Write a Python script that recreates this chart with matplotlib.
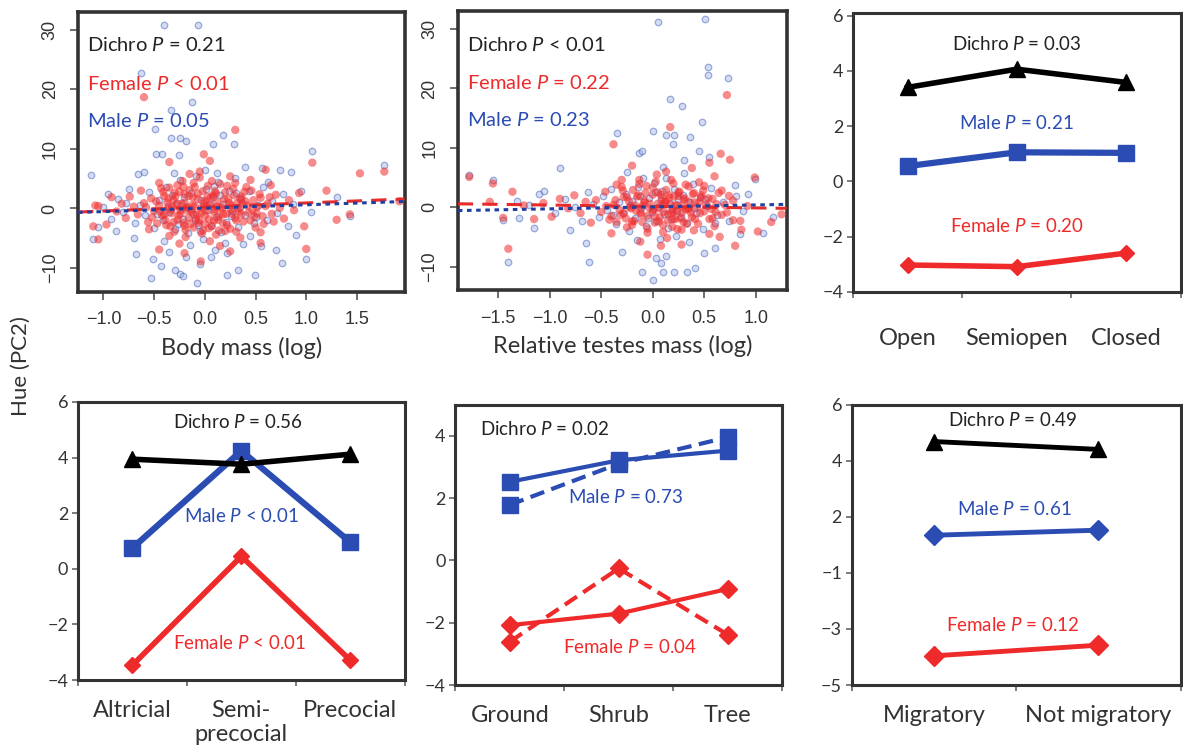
import numpy as np
import matplotlib
matplotlib.use("Agg")
import matplotlib.pyplot as plt

plt.rcParams["font.family"] = ["Lato", "DejaVu Sans"]
plt.rcParams["mathtext.fontset"] = "custom"
plt.rcParams["mathtext.rm"] = "Lato"
plt.rcParams["mathtext.it"] = "Lato:italic"

RED = "#ee2a2a"
BLUE = "#2a4cb3"
EDGE = "#333333"

# ---- scatter data: body mass (log) vs hue ----
body_blue = [(-0.40, 30.9), (-0.07, 30.8), (-0.63, 22.8), (-0.13, 17.9), (-0.33, 16.6), (-0.49, 13.4),
             (0.18, 12.4), (-0.33, 11.9), (-0.24, 11.9), (-0.19, 11.4), (0.29, 10.9), (0.08, 10.8),
             (1.06, 9.7), (-0.48, 9.1), (-0.42, 9.1), (-0.25, 9.0), (1.77, 7.3), (-0.66, 5.8),
             (1.43, -1.3), (1.00, -8.5), (0.76, -9.1), (0.49, -11.1), (0.33, -10.4), (0.22, -11.2),
             (-0.08, -12.6), (-0.53, -11.6), (-0.24, -11.0), (-0.22, -11.4), (-0.29, -10.4), (-0.43, -9.6),
             (-0.51, -8.5), (-0.68, -7.7), (-1.10, -5.2), (-1.12, 5.7), (-1.05, -3.1), (-0.05, -9.4),
             (-0.19, -8.2), (0.06, -8.2), (0.22, -7.4), (0.56, 6.8), (0.74, 6.5), (0.85, 6.2),
             (0.40, 7.0), (0.95, 3.0), (1.30, 2.0), (0.70, -7.0), (0.55, -6.3), (-0.60, 6.2),
             (-0.78, 1.0), (-0.95, 2.5), (-0.88, -3.8), (-0.70, -5.0), (-0.35, -7.3), (0.10, -7.0),
             (0.38, -6.0), (0.90, -4.5), (1.05, -0.6), (0.62, 4.4),
             (-0.45, 1.5), (-0.41, -2.0), (-0.38, 3.6), (-0.35, -0.6), (-0.32, 2.2), (-0.29, -3.5),
             (-0.27, 0.9), (-0.24, 4.8), (-0.22, -1.7), (-0.19, 0.3), (-0.17, -4.2), (-0.14, 2.6),
             (-0.12, -0.9), (-0.09, 5.5), (-0.07, -2.7), (-0.04, 1.4), (-0.02, -5.1), (0.01, 3.3),
             (0.03, -0.2), (0.06, -3.0), (0.08, 1.9), (0.11, -1.4), (0.13, 4.5), (0.16, -4.0),
             (0.18, 0.8), (0.21, -2.2), (0.24, 3.0), (0.27, -0.5), (0.30, 5.1), (0.33, -3.1),
             (0.36, 1.6), (0.40, -1.1), (0.44, 2.9), (0.48, -2.5), (0.52, 0.6), (0.57, 3.6),
             (0.61, -1.9), (0.66, 1.2), (0.71, -0.8), (0.77, 2.4), (0.82, -2.9), (0.87, 0.7),
             (-0.50, -3.3), (-0.55, 2.7), (-0.59, -1.1), (-0.64, 0.5), (-0.69, -2.4), (-0.75, 3.2),
             (-0.81, -0.6), (-0.86, 1.6), (-0.93, -1.8), (-1.00, 0.2), (-0.30, 6.0), (0.00, 6.5),
             (0.20, -5.8), (-0.15, -6.2), (0.45, -4.6), (-0.40, -5.4), (0.12, 5.9), (-0.05, -3.8),
             (-0.36, 0.4), (-0.21, 1.9), (-0.10, -1.9), (0.04, 0.7), (0.15, 2.2), (0.26, -1.3),
             (0.35, 0.2), (-0.47, -0.9), (-0.26, -2.6), (0.09, 3.8), (0.31, 2.6), (0.50, -1.5)]

body_red = [(-0.45, 0.5), (-0.42, -1.2), (-0.40, 2.1), (-0.38, -2.8), (-0.36, 0.0), (-0.35, 3.5),
            (-0.33, -0.8), (-0.31, 1.4), (-0.30, -3.9), (-0.28, 0.7), (-0.27, -1.9), (-0.25, 2.8),
            (-0.24, -0.3), (-0.22, 4.6), (-0.21, -2.4), (-0.20, 1.0), (-0.19, -4.8), (-0.17, 0.2),
            (-0.16, -1.5), (-0.15, 3.1), (-0.13, -0.6), (-0.12, 1.9), (-0.11, -3.2), (-0.10, 0.4),
            (-0.08, -1.0), (-0.07, 2.5), (-0.06, -2.0), (-0.05, 5.2), (-0.03, 0.1), (-0.02, -3.7),
            (0.00, 1.3), (0.01, -0.4), (0.03, 3.8), (0.04, -1.8), (0.05, 0.6), (0.07, -2.9),
            (0.08, 2.2), (0.10, -0.2), (0.11, -4.4), (0.12, 1.1), (0.14, -1.3), (0.15, 4.1),
            (0.17, 0.0), (0.18, -2.5), (0.20, 2.7), (0.21, -0.9), (0.23, 1.6), (0.25, -3.4),
            (0.26, 0.5), (0.28, 3.3), (0.30, -1.6), (0.32, 0.9), (0.34, -0.5), (0.36, 2.0),
            (0.38, -2.2), (0.40, 1.2), (0.43, -0.7), (0.46, 3.0), (0.49, -1.4), (0.52, 0.3),
            (0.55, 1.8), (0.58, -2.6), (0.62, 0.8), (0.66, -0.9), (0.70, 2.3), (0.74, 0.1),
            (0.78, -1.7), (0.83, 1.4), (0.88, -0.3), (0.93, 2.6), (0.98, -3.0),
            (-0.50, -0.4), (-0.53, 1.7), (-0.56, -2.3), (-0.60, 0.9), (-0.63, 3.0), (-0.66, -1.0),
            (-0.70, 0.3), (-0.74, 2.0), (-0.78, -1.6), (-0.82, 0.8), (-0.87, -0.5), (-0.92, 1.9),
            (-0.97, -2.7), (-1.05, 0.4), (-1.10, -3.0),
            (-0.30, 2.6), (-0.20, -2.9), (-0.10, 3.6), (0.00, -2.6), (0.10, 2.9), (0.20, -3.8),
            (0.30, 4.3), (-0.35, -4.6), (-0.15, 5.8), (0.05, -5.5), (0.25, 5.4), (-0.25, -5.9),
            (0.15, -6.3), (-0.05, 6.2), (0.35, -4.9), (0.45, 4.8), (-0.45, 4.3), (0.55, -4.0),
            (-0.55, -3.5), (0.65, 3.9),
            (-0.60, 18.7), (0.30, 13.2), (-0.01, 9.1), (1.06, 7.7), (1.00, -6.8), (1.77, 6.2),
            (1.53, 5.9), (1.43, -1.0), (1.92, 1.2), (-1.08, 0.5), (-1.05, -5.2), (-0.04, -8.9),
            (0.25, -7.2), (-0.20, -7.5), (0.55, -5.8), (-0.45, -6.9), (0.60, 6.5), (-0.35, 7.8),
            (0.05, 8.0), (1.20, 3.0), (1.30, -1.9)]

# dense centre of the red cloud
body_red_core = [(-0.58, 0.2), (-0.52, -1.5), (-0.48, 1.2), (-0.44, -0.5), (-0.41, 2.8), (-0.39, -1.9),
                 (-0.37, 1.0), (-0.34, -3.0), (-0.32, 0.3), (-0.29, 2.0), (-0.26, -1.2), (-0.23, 0.8),
                 (-0.21, 3.6), (-0.18, -0.2), (-0.16, 2.1), (-0.14, -2.6), (-0.12, 0.6), (-0.09, -1.7),
                 (-0.07, 1.6), (-0.04, -0.8), (-0.02, 2.9), (0.00, -1.2), (0.02, 0.4), (0.04, -3.3),
                 (0.06, 1.8), (0.09, -0.6), (0.11, 2.5), (0.13, -1.9), (0.16, 0.2), (0.19, 1.5),
                 (0.22, -2.8), (0.24, 0.9), (0.27, -0.9), (0.29, 2.2), (0.31, -2.0), (0.33, 0.0),
                 (0.36, -1.0), (0.39, 2.8), (0.42, 0.5), (0.45, -2.0), (0.48, 1.4), (0.51, -0.8),
                 (0.54, 2.4), (0.57, -1.3), (0.60, 0.4), (0.64, 1.9), (0.68, -2.2), (-0.47, -2.5),
                 (-0.43, 3.4), (-0.31, -2.3), (-0.27, 3.9), (-0.19, -3.6), (-0.11, 4.3), (-0.03, -4.2),
                 (0.07, 4.6), (0.14, -3.7), (0.22, 3.8), (0.31, -3.9), (0.41, 3.6), (0.50, -3.2),
                 (-0.36, 1.7), (-0.24, -0.9), (-0.13, -0.3), (-0.01, 0.9), (0.12, 0.3), (0.26, -0.2),
                 (0.37, 0.8), (-0.40, -1.0), (-0.20, 2.4), (0.03, 2.0), (0.18, -1.0), (0.35, 1.6),
                 (-0.06, -2.4), (0.09, -2.0), (-0.33, -0.2), (0.47, -0.3)]

# ---- scatter data: relative testes mass (log) vs hue ----
testes_blue = [(0.05, 31.2), (0.51, 31.7), (0.54, 23.7), (0.54, 22.3), (0.73, 21.8), (0.17, 18.3),
               (0.28, 17.0), (0.48, 14.3), (-0.35, 12.5), (0.00, 12.9), (0.13, 12.2), (0.21, 12.2),
               (0.36, 11.9), (0.20, 10.7), (-0.13, 9.2), (-0.10, 9.4), (-1.78, 5.4), (-1.55, 4.5),
               (-0.90, 6.6), (-1.40, -9.3), (-0.62, -9.3), (-0.10, -11.0), (0.00, -12.2), (0.10, -11.0),
               (0.21, -11.0), (0.33, -11.0), (0.41, -10.2), (0.03, -8.6), (0.08, -9.4), (0.13, -8.3),
               (1.07, -4.3), (1.17, -1.7), (0.99, 4.8), (0.92, 2.3), (0.45, 9.5), (0.30, 8.0),
               (0.55, 8.5), (-1.30, -1.8), (-1.45, -2.2), (-1.10, 2.2), (-0.80, -3.8), (-0.65, -6.0),
               (0.60, -6.8), (0.50, -7.8), (-0.30, -7.5), (0.85, -4.5), (-1.15, -3.5), (0.80, 3.8),
               (-0.52, -1.6), (-0.48, 1.9), (-0.44, -0.4), (-0.40, 3.1), (-0.36, -2.9), (-0.33, 0.8),
               (-0.29, -1.0), (-0.26, 2.3), (-0.23, -4.0), (-0.20, 1.0), (-0.17, -1.8), (-0.14, 3.4),
               (-0.11, -0.1), (-0.09, 5.0), (-0.06, -3.1), (-0.04, 1.6), (-0.01, -0.8), (0.01, 4.1),
               (0.03, -2.4), (0.05, 0.1), (0.07, -5.3), (0.09, 2.7), (0.11, -1.1), (0.13, 4.9),
               (0.15, -3.5), (0.17, 0.7), (0.19, -0.3), (0.21, 3.0), (0.23, -4.8), (0.25, 1.3),
               (0.27, -1.6), (0.30, 5.8), (0.33, -2.6), (0.36, 0.9), (0.39, 3.9), (0.42, -0.9),
               (0.46, 1.8), (0.49, -3.6), (0.53, 0.2), (0.57, 3.2), (0.62, -1.3), (0.68, 0.8),
               (0.74, -2.4), (0.81, 1.9), (0.88, -0.6), (-0.58, 0.5), (-0.63, 2.5), (-0.69, -2.3),
               (-0.75, 0.0), (-0.85, 1.3), (-0.95, -0.9), (-1.05, 2.8), (-1.20, 0.4), (-1.32, 1.0),
               (0.10, 6.8), (-0.25, 6.0), (0.35, -5.8), (-0.15, -5.5),
               (-0.22, 0.3), (-0.05, -1.9), (0.08, 1.2), (0.18, -2.0), (0.29, 2.0), (0.40, -0.2),
               (0.51, 1.3), (-0.38, -1.4), (0.02, 2.5), (0.24, -0.7), (0.60, -2.7), (-0.12, 1.9)]

testes_red = [(-0.55, 1.2), (-0.50, -0.8), (-0.46, 2.6), (-0.42, -2.1), (-0.38, 0.4), (-0.35, 3.8),
              (-0.31, -1.3), (-0.28, 1.7), (-0.25, -3.4), (-0.22, 0.0), (-0.19, 2.9), (-0.16, -0.6),
              (-0.13, 4.6), (-0.10, -2.5), (-0.08, 1.1), (-0.05, -4.3), (-0.03, 0.6), (0.00, 3.3),
              (0.02, -1.5), (0.04, 5.5), (0.06, -0.2), (0.08, 2.1), (0.10, -3.0), (0.12, 0.9),
              (0.14, -5.2), (0.16, 1.6), (0.18, -0.9), (0.20, 4.0), (0.22, -2.0), (0.24, 0.3),
              (0.26, 2.6), (0.28, -3.8), (0.30, 1.3), (0.32, -0.4), (0.35, 3.5), (0.38, -1.7),
              (0.41, 0.8), (0.44, -2.8), (0.47, 2.0), (0.50, -0.7), (0.54, 1.5), (0.58, -1.9),
              (0.62, 0.5), (0.67, 2.8), (0.72, -0.9), (0.78, 1.1), (0.85, -2.3), (0.92, 0.2),
              (-0.60, -2.6), (-0.65, 0.9), (-0.70, -1.0), (-0.76, 2.0), (-0.82, -0.2), (-0.90, 1.4),
              (-0.98, -1.6), (-1.06, 0.7), (-1.15, -2.0), (-1.25, 0.3), (-1.36, 2.6), (-1.45, -1.8),
              (-1.58, 0.9),
              (0.05, 2.5), (0.15, -2.2), (-0.05, -1.5), (0.25, 1.9), (-0.15, 1.8), (0.35, -0.3),
              (0.00, -0.5), (0.10, 0.5), (0.20, -0.8), (-0.10, 0.2), (0.30, -2.5), (0.40, 2.4),
              (-0.20, -2.4), (0.45, 4.2), (-0.30, 4.6), (0.13, 6.0), (0.55, -4.5), (-0.12, -5.8),
              (0.28, -6.3), (0.65, -5.0), (0.08, -6.5), (-0.40, -4.4), (0.60, 5.2), (0.38, 6.6),
              (0.72, 18.9), (0.17, 13.5), (-0.38, 10.6), (0.66, 9.0), (-1.78, 5.1), (-1.40, -7.0),
              (0.99, 5.0), (0.86, -3.8), (1.02, -4.1), (-1.55, 4.0), (0.75, 8.0), (0.55, 7.5),
              (-0.20, 7.0), (1.15, -2.5), (1.25, -1.2), (0.80, -6.5), (-0.05, -8.0)]

testes_red_core = [(-0.45, 0.2), (-0.40, -1.5), (-0.36, 1.2), (-0.32, -0.5), (-0.29, 2.8), (-0.26, -1.9),
                   (-0.23, 1.0), (-0.20, -3.0), (-0.17, 0.3), (-0.14, 2.0), (-0.11, -1.2), (-0.08, 0.8),
                   (-0.06, 3.6), (-0.03, -0.2), (0.00, 2.1), (0.02, -2.6), (0.05, 0.6), (0.07, -1.7),
                   (0.09, 1.6), (0.11, -0.8), (0.13, 2.9), (0.15, -1.2), (0.17, 0.4), (0.19, -3.3),
                   (0.21, 1.8), (0.23, -0.6), (0.25, 2.5), (0.27, -1.9), (0.29, 0.2), (0.31, 1.5),
                   (0.33, -2.8), (0.35, 0.9), (0.37, -0.9), (0.39, 2.2), (0.41, -2.0), (0.43, 0.0),
                   (0.46, -1.0), (0.49, 2.8), (0.52, 0.5), (0.55, -2.0), (0.58, 1.4), (0.61, -0.8),
                   (0.64, 2.4), (0.67, -1.3), (0.70, 0.4), (0.74, 1.9), (0.78, -2.2), (-0.35, -2.5),
                   (-0.30, 3.4), (-0.18, -2.3), (-0.13, 3.9), (-0.05, -3.6), (0.03, 4.3), (0.10, -4.2),
                   (0.18, 4.6), (0.24, -3.7), (0.32, 3.8), (0.40, -3.9), (0.50, 3.6), (0.60, -3.2),
                   (-0.25, 1.7), (-0.12, -0.9), (0.01, -0.3), (0.12, 0.9), (0.22, 0.3), (0.34, -0.2),
                   (0.45, 0.8), (-0.28, -1.0), (-0.07, 2.4), (0.16, 2.0), (0.28, -1.0), (0.47, 1.6),
                   (0.06, -2.4), (0.20, -2.0), (-0.21, -0.2), (0.57, -0.3)]

# regression lines (intercept, slope)
body_fit_red = (0.25, 0.68)
body_fit_blue = (0.05, 0.57)
testes_fit_red = (0.12, -0.24)
testes_fit_blue = (0.05, 0.33)

# ---- category panels ----
nest_cats = ["Open", "Semiopen", "Closed"]
nest_dichro = [3.40, 4.06, 3.58]
nest_male = [0.55, 1.05, 1.03]
nest_female = [-3.03, -3.09, -2.60]

dev_cats = ["Altricial", "Semi-\nprecocial", "Precocial"]
dev_dichro = [3.94, 3.76, 4.12]
dev_male = [0.75, 4.24, 0.96]
dev_female = [-3.46, 0.45, -3.28]

height_cats = ["Ground", "Shrub", "Tree"]
height_male_a = [2.52, 3.21, 3.52]
height_male_b = [1.78, 3.10, 3.95]
height_female_a = [-2.08, -1.71, -0.92]
height_female_b = [-2.61, -0.26, -2.38]

mig_cats = ["Migratory", "Not migratory"]
mig_ticks = [-5, -3, -1, 2, 4, 6]
mig_dichro = [4.68, 4.40]
mig_male = [1.01, 1.28]
mig_female = [-3.96, -3.58]

fig = plt.figure(figsize=(11.83, 7.54), dpi=100)


def style_box(ax, lw=2.2):
    for s in ax.spines.values():
        s.set_color(EDGE)
        s.set_linewidth(lw)


def scatter_panel(rect, blue, red, core, fit_r, fit_b, xlim, xticks, xlabel, texts, tx):
    ax = fig.add_axes(rect)
    b = np.array(blue)
    r = np.array(red + core)
    ax.scatter(b[:, 0], b[:, 1], s=22, facecolor="#9fb2e6", edgecolor="#3050b0",
               linewidth=0.9, alpha=0.45, zorder=2)
    ax.scatter(r[:, 0], r[:, 1], s=36, color="#f22a2a", edgecolor="none", alpha=0.55, zorder=3)
    xs = np.array(xlim)
    ax.plot(xs, fit_r[0] + fit_r[1] * xs, color="#e82a2a", lw=2.2, dashes=(5, 3), zorder=4)
    ax.plot(xs, fit_b[0] + fit_b[1] * xs, color="#2040a0", lw=2.2, dashes=(1.5, 1.5), zorder=4)
    ax.set_xlim(*xlim)
    ax.set_ylim(-14, 33)
    ax.set_xticks(xticks)
    ax.set_xticklabels([("%.1f" % v).replace("-", "\u2212") for v in xticks],
                       family="Liberation Sans", fontsize=13, color="#333333")
    ax.set_yticks([-10, 0, 10, 20, 30])
    ax.set_yticklabels(["\u221210", "0", "10", "20", "30"], family="Liberation Sans",
                       fontsize=13, color="#333333", rotation=90, va="center")
    ax.tick_params(direction="out", length=6, width=1.2, color="#555555", pad=8)
    ax.set_xlabel(xlabel, fontsize=17, color="#333333", labelpad=6)
    style_box(ax, 2.6)
    for (txt, col), y in zip(texts, [27.4, 20.9, 14.7]):
        ax.text(tx, y, txt, color=col, fontsize=14.5, va="center", ha="left", zorder=5)
    return ax


def cat_panel(rect, cats, ylim, yticks, labels_y, lab_pad=-0.19):
    ax = fig.add_axes(rect)
    n = len(cats)
    ax.set_xlim(-0.5, n - 0.5)
    ax.set_ylim(*ylim)
    ax.set_xticks(np.arange(n + 1) - 0.5)
    ax.set_xticklabels([])
    ax.set_yticks(yticks)
    ax.set_yticklabels(labels_y, fontsize=13, color="#333333")
    ax.tick_params(direction="out", length=4, width=1.2, color="#666666", pad=3)
    trans = ax.get_xaxis_transform()
    for i, c in enumerate(cats):
        ax.text(i, lab_pad, c, transform=trans, ha="center", va="top", fontsize=17,
                color="#333333", linespacing=1.2)
    style_box(ax, 2.2)
    return ax


def ptxt(label, val, cmp="="):
    return label + r" $\mathit{P}$ " + cmp + " " + val


# row 1
scatter_panel([0.066, 0.613, 0.276, 0.371], body_blue, body_red, body_red_core, body_fit_red, body_fit_blue,
              (-1.25, 1.97), [-1.0, -0.5, 0.0, 0.5, 1.0, 1.5], "Body mass (log)",
              [(ptxt("Dichro", "0.21"), "#222222"), (ptxt("Female", "0.01", "<"), RED),
               (ptxt("Male", "0.05"), BLUE)], -1.16)
scatter_panel([0.387, 0.615, 0.278, 0.370], testes_blue, testes_red, testes_red_core, testes_fit_red,
              testes_fit_blue, (-1.89, 1.30), [-1.5, -1.0, -0.5, 0.0, 0.5, 1.0], "Relative testes mass (log)",
              [(ptxt("Dichro", "0.01", "<"), "#222222"), (ptxt("Female", "0.22"), RED),
               (ptxt("Male", "0.23"), BLUE)], -1.80)

ax = cat_panel([0.721, 0.613, 0.277, 0.370], nest_cats, (-4, 6.1), [-4, -2, 0, 2, 4, 6],
               ["\u22124", "\u22122", "0", "2", "4", "6"], lab_pad=-0.13)
x = np.arange(3)
ax.plot(x, nest_dichro, color="black", lw=4, marker="^", ms=11)
ax.plot(x, nest_male, color=BLUE, lw=4.5, marker="s", ms=12)
ax.plot(x, nest_female, color=RED, lw=4, marker="D", ms=8)
ax.text(1, 4.97, ptxt("Dichro", "0.03"), ha="center", va="center", fontsize=13.5, color="#222222")
ax.text(1, 2.10, ptxt("Male", "0.21"), ha="center", va="center", fontsize=13.5, color=BLUE)
ax.text(1, -1.61, ptxt("Female", "0.20"), ha="center", va="center", fontsize=13.5, color=RED)

# row 2
ax = cat_panel([0.066, 0.098, 0.276, 0.369], dev_cats, (-4, 6), [-4, -2, 0, 2, 4, 6],
               ["\u22124", "\u22122", "0", "2", "4", "6"], lab_pad=-0.07)
ax.plot(x, dev_male, color=BLUE, lw=4.5, marker="s", ms=12, zorder=2)
ax.plot(x, dev_dichro, color="black", lw=4, marker="^", ms=11, zorder=3)
ax.plot(x, dev_female, color=RED, lw=4, marker="D", ms=8, zorder=2)
ax.text(0.97, 5.29, ptxt("Dichro", "0.56"), ha="center", va="center", fontsize=13.5, color="#222222")
ax.text(1.0, 1.90, ptxt("Male", "0.01", "<"), ha="center", va="center", fontsize=13.5, color=BLUE)
ax.text(0.98, -2.68, ptxt("Female", "0.01", "<"), ha="center", va="center", fontsize=13.5, color=RED)

ax = cat_panel([0.385, 0.0915, 0.276, 0.372], height_cats, (-4, 5), [-4, -2, 0, 2, 4],
               ["\u22124", "\u22122", "0", "2", "4"], lab_pad=-0.07)
ax.plot(x, height_male_a, color=BLUE, lw=3, marker="s", ms=12)
ax.plot(x, height_male_b, color=BLUE, lw=3, ls=(0, (3.5, 1.8)), marker="s", ms=12)
ax.plot(x, height_female_a, color=RED, lw=3, marker="D", ms=9)
ax.plot(x, height_female_b, color=RED, lw=3, ls=(0, (3.5, 1.8)), marker="D", ms=9)
ax.text(-0.27, 4.21, ptxt("Dichro", "0.02"), ha="left", va="center", fontsize=13.5, color="#222222")
ax.text(1.06, 2.04, ptxt("Male", "0.73"), ha="center", va="center", fontsize=13.5, color=BLUE)
ax.text(1.10, -2.77, ptxt("Female", "0.04"), ha="center", va="center", fontsize=13.5, color=RED)

ax = cat_panel([0.720, 0.0915, 0.278, 0.372], mig_cats, (0, 5), range(len(mig_ticks)),
               [str(v).replace("-", "\u2212") for v in mig_ticks], lab_pad=-0.07)
tpos = np.arange(len(mig_ticks))
x2 = np.arange(2)
ax.plot(x2, np.interp(mig_dichro, mig_ticks, tpos), color="black", lw=3.5, marker="^", ms=11)
ax.plot(x2, np.interp(mig_male, mig_ticks, tpos), color=BLUE, lw=3.5, marker="D", ms=10)
ax.plot(x2, np.interp(mig_female, mig_ticks, tpos), color=RED, lw=3.5, marker="D", ms=10)
ax.text(0.48, 4.72, ptxt("Dichro", "0.49"), ha="center", va="center", fontsize=13.5, color="#222222")
ax.text(0.49, 3.14, ptxt("Male", "0.61"), ha="center", va="center", fontsize=13.5, color=BLUE)
ax.text(0.48, 1.07, ptxt("Female", "0.12"), ha="center", va="center", fontsize=13.5, color=RED)

fig.text(0.018, 0.515, "Hue (PC2)", rotation=90, ha="center", va="center", fontsize=16, color="#333333")

fig.savefig("out.png", dpi=100, facecolor="white")
